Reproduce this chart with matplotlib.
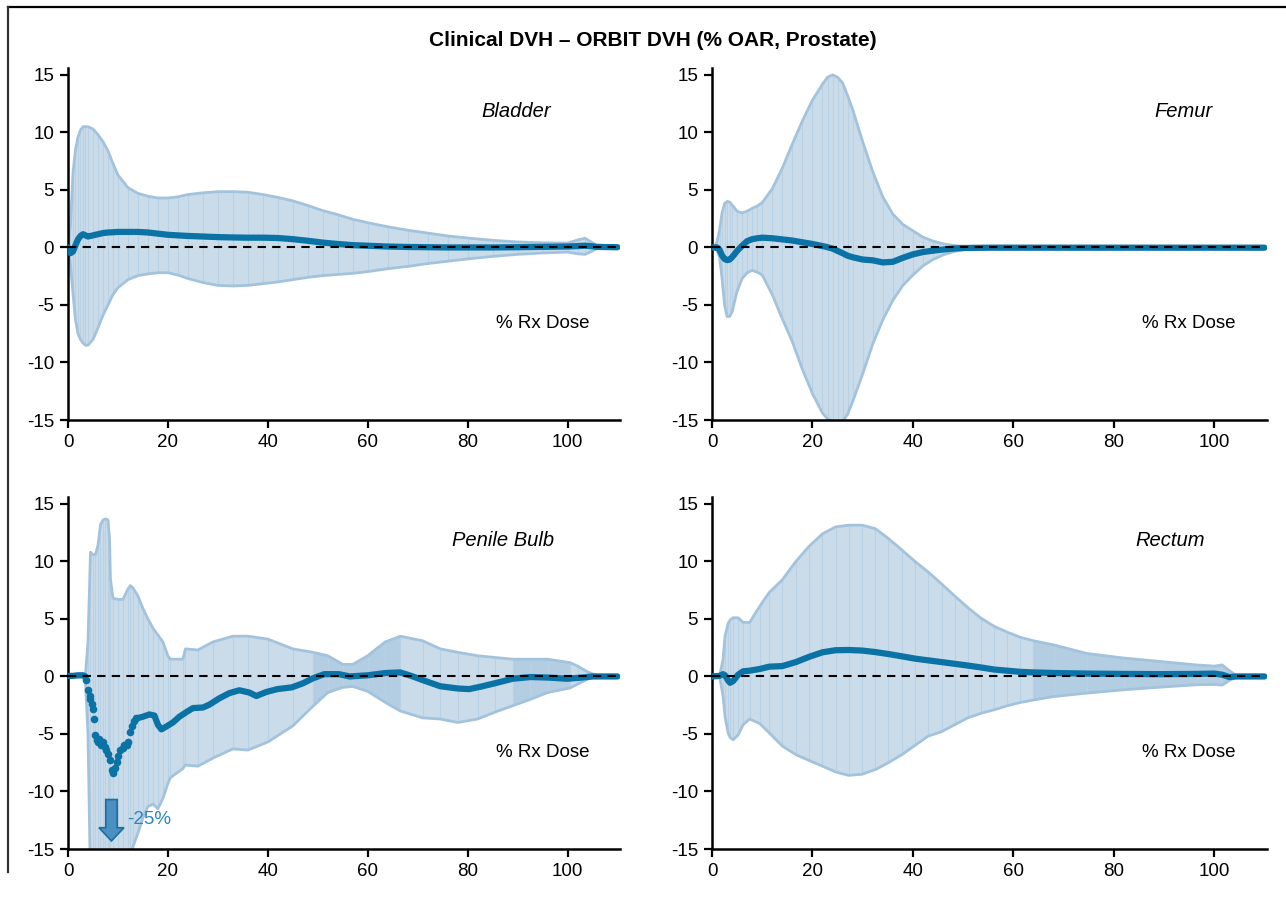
import numpy as np
import matplotlib
matplotlib.use("Agg")
import matplotlib.pyplot as plt
import matplotlib.patches as mpatches
from matplotlib.lines import Line2D

plt.rcParams['font.family'] = ['Liberation Sans', 'DejaVu Sans']

# ---- Bladder ----
bl_x = [0, 0.5, 1, 1.5, 2, 2.5, 3, 3.5, 4, 5, 6, 7, 8, 9, 10, 12, 14, 16, 18, 20, 22, 24, 27, 30,
        33, 36, 39, 42, 45, 48, 51, 54, 57, 60, 64, 68, 72, 76, 80, 85, 90, 95, 100, 102, 103.5,
        105, 106, 108, 110]
bl_mean = [0, -0.5, -0.35, 0.2, 0.7, 1.0, 1.15, 1.05, 0.95, 1.05, 1.15, 1.25, 1.3, 1.32, 1.35, 1.35,
           1.35, 1.3, 1.2, 1.1, 1.05, 1.0, 0.95, 0.9, 0.87, 0.85, 0.85, 0.82, 0.72, 0.58, 0.42, 0.3,
           0.2, 0.15, 0.08, 0.04, 0.02, 0.0, 0.0, 0.0, 0.02, 0.05, 0.08, 0.12, 0.15, 0.1, 0.05, 0.03, 0.02]
bl_hi = [0, 2.0, 6.5, 8.5, 9.6, 10.2, 10.5, 10.5, 10.5, 10.3, 9.8, 9.2, 8.4, 7.3, 6.3, 5.2, 4.7, 4.45,
         4.3, 4.3, 4.4, 4.6, 4.75, 4.85, 4.85, 4.8, 4.6, 4.35, 4.05, 3.65, 3.2, 2.85, 2.45, 2.15, 1.8,
         1.5, 1.25, 1.0, 0.82, 0.62, 0.48, 0.4, 0.38, 0.65, 0.8, 0.4, 0.1, 0.03, 0]
bl_lo = [0, -1.5, -4.0, -6.3, -7.5, -8.0, -8.3, -8.5, -8.5, -8.0, -7.0, -5.9, -5.0, -4.1, -3.5, -2.8,
         -2.45, -2.3, -2.2, -2.2, -2.4, -2.7, -3.05, -3.3, -3.35, -3.3, -3.15, -3.0, -2.8, -2.6, -2.45,
         -2.35, -2.25, -2.1, -1.85, -1.65, -1.4, -1.2, -1.0, -0.78, -0.6, -0.48, -0.4, -0.55, -0.6,
         -0.3, -0.1, -0.03, 0]

# ---- Femur ----
fe_x = [0, 0.5, 1, 1.5, 2, 2.5, 3, 3.5, 4, 5, 6, 7, 8, 9, 10, 12, 14, 16, 18, 20, 22, 23, 24, 25,
        26, 27, 28, 30, 32, 34, 36, 38, 40, 42, 44, 46, 48, 50, 53, 56, 60, 70, 80, 90, 100, 110]
fe_mean = [0, 0, 0, -0.2, -0.7, -1.0, -1.1, -1.05, -0.85, -0.3, 0.15, 0.55, 0.72, 0.8, 0.85, 0.8,
           0.7, 0.6, 0.45, 0.3, 0.12, 0.02, -0.1, -0.3, -0.5, -0.72, -0.85, -1.05, -1.12, -1.3,
           -1.25, -0.9, -0.6, -0.4, -0.28, -0.18, -0.1, -0.05, -0.03, -0.02, -0.02, -0.02, -0.02,
           -0.02, -0.02, -0.02]
fe_hi = [0, 0, 0.5, 1.5, 3.0, 3.8, 4.0, 3.95, 3.7, 3.15, 3.0, 3.15, 3.4, 3.6, 3.9, 5.1, 6.9, 9.0,
         11.0, 12.8, 14.2, 14.8, 15.0, 14.8, 14.3, 13.2, 12.0, 9.2, 6.6, 4.4, 2.9, 2.0, 1.45, 0.9,
         0.55, 0.32, 0.18, 0.1, 0.03, 0.01, 0, 0, 0, 0, 0, 0]
fe_lo = [0, 0, -0.3, -0.8, -2.7, -5.0, -6.0, -6.0, -5.6, -3.8, -2.7, -2.2, -2.0, -2.15, -2.4, -4.1,
         -6.2, -8.2, -10.6, -12.7, -14.4, -14.9, -15.1, -15.3, -15.1, -14.5, -13.4, -11.0, -8.4,
         -6.3, -4.6, -3.3, -2.4, -1.6, -1.05, -0.65, -0.38, -0.2, -0.07, -0.03, 0, 0, 0, 0, 0, 0]

# ---- Penile Bulb ----
pb_x = [0, 3, 3.5, 4, 4.5, 5, 5.5, 6, 6.5, 7, 7.5, 8, 8.3, 8.5, 9, 10, 11, 12, 12.5, 13, 14, 15,
        16, 17, 18, 19, 20, 20.5, 23, 23.5, 26, 29, 33, 36, 40, 45, 49, 52, 55, 57, 60, 63.5, 66.5,
        71, 74.5, 78, 82, 85.5, 89, 92.5, 96, 100.5, 102, 104, 106, 110]
pb_hi = [0, 0.05, 0.2, 3.0, 10.8, 10.6, 10.6, 11.4, 13.2, 13.6, 13.7, 13.6, 12.1, 8.5, 6.8, 6.7,
         6.7, 7.6, 7.9, 7.7, 7.0, 5.9, 5.0, 4.2, 3.6, 3.0, 1.8, 1.5, 1.5, 2.4, 2.3, 3.0, 3.5, 3.5,
         3.25, 2.4, 2.1, 1.8, 1.05, 1.05, 1.8, 3.0, 3.5, 3.1, 2.4, 2.1, 1.8, 1.65, 1.5, 1.5, 1.5,
         1.2, 0.9, 0.4, 0.05, 0]
pb_lo = [0, -0.05, -0.5, -5, -18, -19, -20, -21, -21.5, -22, -22.5, -23.5, -24, -24.5, -25, -23,
         -20, -17, -16, -14.8, -13.6, -12.3, -11.3, -11.1, -11.5, -10.6, -9.3, -8.8, -8.0, -7.7,
         -7.8, -7.1, -6.3, -6.4, -5.7, -4.3, -2.6, -1.4, -0.95, -0.87, -1.3, -2.25, -3.0, -3.6,
         -3.7, -4.0, -3.7, -3.1, -2.55, -2.0, -1.4, -1.0, -0.67, -0.23, -0.02, 0]
pb_line_x = [0, 1, 2, 3, 3.5, 13.7, 15, 16.3, 17.3, 18, 18.7, 19.7, 21, 22.3, 23.7, 25, 27, 28.3,
             30.3, 32.3, 34.3, 36.3, 37.7, 39.7, 41.9, 44.8, 47, 49.1, 51.3, 54.2, 56.4, 60, 63.6,
             66.5, 68.7, 70.9, 74.5, 78.1, 80.3, 82.5, 85.4, 89, 92.6, 96.2, 99.9, 102.8, 105, 110]
pb_line_y = [0.05, 0.05, 0.1, 0.1, 0.0, -3.65, -3.5, -3.3, -3.4, -4.2, -4.6, -4.35, -4.0, -3.5,
             -3.1, -2.75, -2.7, -2.45, -1.9, -1.45, -1.2, -1.4, -1.7, -1.35, -1.1, -0.95, -0.6,
             -0.15, 0.2, 0.2, 0.0, 0.1, 0.3, 0.35, 0.05, -0.3, -0.85, -1.05, -1.1, -0.9, -0.6, -0.2,
             -0.05, -0.1, -0.2, -0.1, 0.0, 0.0]
pb_dot_x = [3.67, 4.0, 4.33, 4.5, 4.8, 5.0, 5.2, 5.5, 5.8, 6.1, 6.3, 6.7, 7.0, 7.4, 7.7, 8.1, 8.5,
            8.8, 9.1, 9.5, 9.8, 10.1, 10.5, 11.0, 11.3, 11.8, 12.1, 12.5, 12.8, 13.2, 13.7]
pb_dot_y = [-0.3, -1.2, -1.7, -2.0, -2.4, -2.8, -3.7, -5.1, -5.5, -5.7, -5.4, -6.0, -5.7, -6.1,
            -6.4, -6.7, -7.3, -8.1, -8.4, -8.0, -7.4, -6.9, -6.4, -6.2, -6.0, -6.0, -5.7, -4.8,
            -4.3, -3.9, -3.6]

# ---- Rectum ----
re_x = [0, 1.5, 2.2, 2.6, 3.2, 3.6, 4.2, 5.2, 6.2, 7.5, 9.5, 11.4, 14, 16.7, 19.3, 22, 24.6, 27.2,
        29.9, 32.5, 35.1, 37.8, 40.4, 43, 45.7, 48.3, 50.9, 53.6, 56.2, 58.8, 61.4, 64, 68, 74.6,
        82, 89.3, 96.5, 100, 101.6, 103, 104.5, 106, 110]
re_mean = [0, 0.05, 0.2, 0.1, -0.35, -0.55, -0.4, 0.15, 0.45, 0.5, 0.65, 0.85, 0.9, 1.25, 1.7,
           2.1, 2.28, 2.3, 2.25, 2.12, 1.95, 1.75, 1.55, 1.4, 1.25, 1.1, 0.95, 0.78, 0.6, 0.5, 0.4,
           0.35, 0.3, 0.25, 0.22, 0.2, 0.22, 0.25, 0.15, -0.05, 0, 0, 0]
re_hi = [0, 0, 1.5, 3.5, 4.6, 4.9, 5.1, 5.1, 4.7, 4.7, 6.1, 7.3, 8.4, 10.0, 11.3, 12.4, 13.0, 13.15,
         13.15, 12.85, 12.0, 11.0, 10.0, 9.1, 8.05, 7.0, 6.0, 5.05, 4.35, 3.85, 3.4, 3.1, 2.75, 2.0,
         1.6, 1.3, 1.0, 0.9, 1.0, 0.5, 0.05, 0, 0]
re_lo = [0, 0, -1.7, -3.5, -4.9, -5.3, -5.5, -5.1, -4.2, -3.7, -4.1, -4.9, -6.05, -6.8, -7.3, -7.8,
         -8.3, -8.6, -8.5, -8.1, -7.5, -6.8, -6.0, -5.2, -4.8, -4.2, -3.6, -3.2, -2.9, -2.55, -2.26,
         -2.05, -1.75, -1.45, -1.16, -0.93, -0.72, -0.7, -0.75, -0.35, -0.05, 0, 0]

panels = [
    ("Bladder", bl_x, bl_hi, bl_lo, bl_x, bl_mean, [], 89.8),
    ("Femur", fe_x, fe_hi, fe_lo, fe_x, fe_mean, [], 93.8),
    ("Penile Bulb", pb_x, pb_hi, pb_lo, pb_line_x, pb_line_y, [(49, 68), (89, 101)], 87.0),
    ("Rectum", re_x, re_hi, re_lo, re_x, re_mean, [(63, 104)], 91.2),
]

band_c = '#cadcea'
dark_c = '#b3cde2'
edge_c = '#a3c3dd'
mean_c = '#0b72a6'

W, H = 1286, 899
fig = plt.figure(figsize=(W / 100, H / 100), dpi=100)
boxes = [(68, 620, 68, 420), (712, 1267, 68, 420), (68, 620, 497, 849), (712, 1267, 497, 849)]

for (name, bx, hi, lo, mx, my, dark, lab_x), (x0, x1, y0, y1) in zip(panels, boxes):
    ax = fig.add_axes([x0 / W, 1 - y1 / H, (x1 - x0) / W, (y1 - y0) / H])
    bx = np.array(bx)
    hi = np.array(hi)
    lo = np.array(lo)
    ax.fill_between(bx, lo, hi, color=band_c, lw=0, zorder=1)
    for a, b in dark:
        m = (bx >= a) & (bx <= b)
        ax.fill_between(bx, lo, hi, where=m, color=dark_c, lw=0, zorder=1.1)
    ax.vlines(bx, lo, hi, color='#b9d1e4', lw=0.8, zorder=1.2)
    ax.plot(bx, hi, color=edge_c, lw=2.0, zorder=1.5)
    ax.plot(bx, lo, color=edge_c, lw=2.0, zorder=1.5)
    if name == "Penile Bulb":
        ax.plot(mx[:5], my[:5], color=mean_c, lw=4.5, solid_capstyle='round', zorder=3)
        ax.plot(mx[5:], my[5:], color=mean_c, lw=4.5, solid_capstyle='round', zorder=3)
        ax.plot(pb_dot_x, pb_dot_y, 'o', color=mean_c, ms=5.5, mew=0, zorder=3)
        ax.add_patch(mpatches.FancyArrow(8.7, -10.7, 0, -3.6, width=2.3, head_width=5.0,
                                         head_length=1.15, length_includes_head=True,
                                         fc='#4a90c2', ec='#1d6d9e', lw=1.2, zorder=5))
        ax.text(11.8, -12.4, "-25%", color='#2a86bd', fontsize=13.5, ha='left', va='center', zorder=5)
    else:
        ax.plot(mx, my, color=mean_c, lw=4.5, solid_capstyle='round', zorder=3)
    ax.hlines(0, 0, 110, colors='black', linestyles=(0, (4, 3)), lw=1.5, zorder=4)

    ax.set_xlim(0, 110.5)
    ax.set_ylim(-15, 15.6)
    ax.set_xticks([0, 20, 40, 60, 80, 100])
    ax.set_yticks([-15, -10, -5, 0, 5, 10, 15])
    ax.set_yticklabels(['-15', '-10', '-5', '0', '5', '10', '15'])
    for s in ['top', 'right']:
        ax.spines[s].set_visible(False)
    for s in ['left', 'bottom']:
        ax.spines[s].set_linewidth(1.8)
    ax.tick_params(direction='out', length=6, width=1.6, labelsize=13.5, pad=4)
    ax.patch.set_alpha(0)

    ax.text(lab_x, 11.8, name, fontsize=14.5, style='italic', ha='center', va='center')
    ax.text(95.0, -6.6, "% Rx Dose", fontsize=13.5, ha='center', va='center')

fig.text(0.508, 1 - 40 / H, "Clinical DVH \u2013 ORBIT DVH (% OAR, Prostate)",
         fontsize=15, fontweight='bold', ha='center', va='center')

fig.add_artist(Line2D([8 / W, 1], [1 - 7 / H, 1 - 7 / H], transform=fig.transFigure,
                      color='black', lw=1.6))
fig.add_artist(Line2D([8 / W, 8 / W], [1 - 7 / H, 0.03], transform=fig.transFigure,
                      color='#333333', lw=1.6))

fig.savefig("out.png", dpi=100)
